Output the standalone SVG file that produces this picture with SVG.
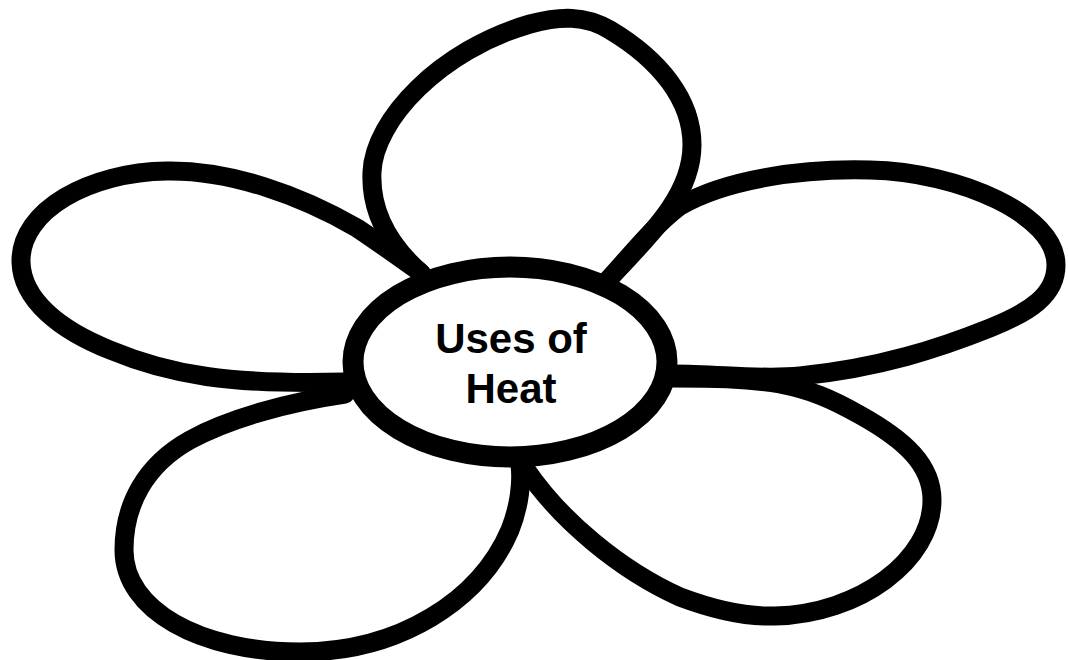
<svg xmlns="http://www.w3.org/2000/svg" width="1068" height="660" viewBox="0 0 1068 660">
<style>
.petal{fill:none;stroke:#000;stroke-width:19;stroke-linecap:round;stroke-linejoin:round}
.center{fill:#fff;stroke:#000;stroke-width:21}
.lbl{font-family:"Liberation Sans",Arial,sans-serif;font-weight:bold;font-size:42px;fill:#000;text-anchor:middle}
</style>
<rect width="1068" height="660" fill="#fff"/>
<g id="petals">
<path id="petal-top" class="petal" d="M 422,274 C 392,248 370,215 372,172 C 374,120 440,50 530,24 C 560,16 585,15 610,30 C 660,60 692,100 692,145 C 692,195 650,235 608,280"/>
<path id="petal-left" class="petal" d="M 420,272 C 400,258 378,242 357,228 C 300,195 230,170 167,171 C 90,172 20,210 21,262 C 22,300 60,330 110,350 C 170,375 230,385 345,382"/>
<path id="petal-bottom-left" class="petal" d="M 345,394 C 290,402 230,418 190,440 C 145,465 124,505 124,550 C 124,610 200,652 300,652 C 400,652 480,600 510,530 C 520,505 522,480 520,465"/>
<path id="petal-bottom-right" class="petal" d="M 525,468 C 560,520 620,570 680,597 C 720,612 750,617 775,616 C 860,614 932,560 932,500 C 932,465 905,440 860,415 C 830,398 810,390 780,384 C 745,378 710,378 672,378"/>
<path id="petal-right" class="petal" d="M 608,280 C 635,250 655,225 680,206 C 725,180 800,168 870,170 C 960,172 1056,215 1056,265 C 1056,295 1030,312 990,328 C 940,348 880,368 800,376 C 760,380 720,374 672,374"/>
</g>
<g id="center-node">
<ellipse class="center" cx="510" cy="362" rx="157" ry="95"/>
<text class="lbl" x="511" y="353">Uses of</text>
<text class="lbl" x="511" y="403">Heat</text>
</g>
</svg>
